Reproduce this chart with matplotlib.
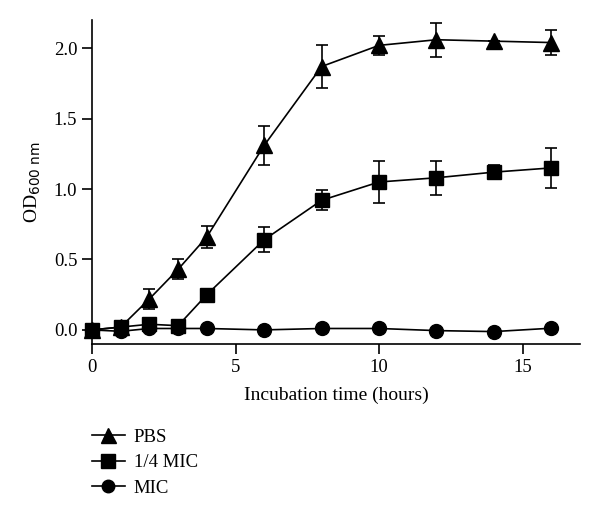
import numpy as np
import matplotlib
matplotlib.use("Agg")
import matplotlib.pyplot as plt
from matplotlib.lines import Line2D

plt.rcParams['font.family'] = ['Liberation Serif', 'DejaVu Serif']

# time points (hours)
t = [0, 1, 2, 3, 4, 6, 8, 10, 12, 14, 16]

# PBS (triangles)
pbs = [0.0, 0.02, 0.22, 0.43, 0.66, 1.31, 1.87, 2.02, 2.06, 2.05, 2.04]
pbs_err = [0, 0, 0.07, 0.07, 0.08, 0.14, 0.15, 0.07, 0.12, 0, 0.09]

# 1/4 MIC (squares)
quarter = [0.0, 0.02, 0.04, 0.03, 0.25, 0.64, 0.92, 1.05, 1.08, 1.12, 1.15]
quarter_err = [0, 0, 0, 0, 0, 0.09, 0.07, 0.15, 0.12, 0.05, 0.14]

# MIC (circles)
mic = [0.0, -0.01, 0.01, 0.01, 0.01, 0.0, 0.01, 0.01, -0.005, -0.012, 0.012]
mic_err = [0] * len(t)

fig = plt.figure(figsize=(6, 5.2), dpi=100)
ax = fig.add_axes([0.1533, 0.3385, 0.8133, 0.623])

series = [
    (pbs, pbs_err, "^", 12, "PBS"),
    (quarter, quarter_err, "s", 10.5, "1/4 MIC"),
    (mic, mic_err, "o", 10, "MIC"),
]
for y, e, m, ms, lab in series:
    h = ax.errorbar(t, y, yerr=e, fmt="-" + m, color="black", ms=ms,
                    lw=1.2, elinewidth=1.2, capsize=4, capthick=1.2,
                    clip_on=False, label=lab)
    for art in h.lines[1] + h.lines[2]:
        art.set_clip_on(False)

ax.set_xlim(0, 17)
ax.set_ylim(-0.1, 2.2)
ax.set_xticks([0, 5, 10, 15])
ax.set_yticks([0.0, 0.5, 1.0, 1.5, 2.0])
ax.set_yticklabels(["0.0", "0.5", "1.0", "1.5", "2.0"])
ax.spines['top'].set_visible(False)
ax.spines['right'].set_visible(False)
for s in ['left', 'bottom']:
    ax.spines[s].set_linewidth(1.2)
ax.tick_params(direction="out", length=7, width=1.2, labelsize=13.5)

ax.set_xlabel("Incubation time (hours)", fontsize=14, labelpad=8)
ax.set_ylabel(r"OD$_{\mathrm{600\ nm}}$", fontsize=14, labelpad=8)

leg_h = [Line2D([], [], color="black", marker=m, ms=ms * 0.9, lw=1.2)
         for _, _, m, ms, _ in series]
fig.legend(leg_h, [s[4] for s in series], loc="upper left",
           bbox_to_anchor=(0.14, 0.19), frameon=False, fontsize=13.5,
           handlelength=1.8, labelspacing=0.45, handletextpad=0.45,
           borderaxespad=0)

fig.savefig("out.png", dpi=100)
